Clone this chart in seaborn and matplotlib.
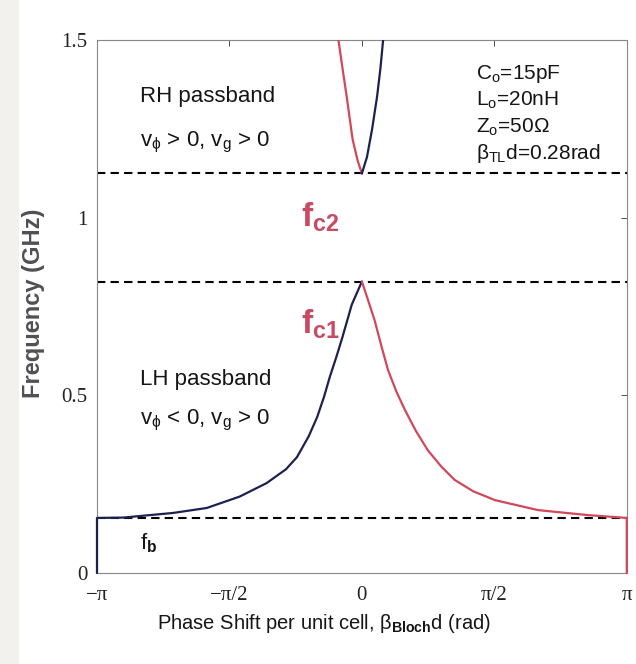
import numpy as np
import pandas as pd
import matplotlib
matplotlib.use("Agg")
import matplotlib.pyplot as plt
import seaborn as sns

# ------------------------------------------------------------
# DATA
# ------------------------------------------------------------
PI = np.pi

# LH band, negative phase (dark blue)
lh_neg_beta = [-PI, -PI, -2.83, -2.24, -1.84, -1.45, -1.13, -0.90, -0.77, -0.63,
               -0.53, -0.45, -0.38, -0.30, -0.23, -0.12, 0.0]
lh_neg_freq = [0.0, 0.155, 0.156, 0.169, 0.183, 0.215, 0.253, 0.292, 0.326, 0.385,
               0.439, 0.495, 0.552, 0.610, 0.664, 0.755, 0.82]

# LH band, positive phase (red)
lh_pos_beta = [0.0, 0.07, 0.15, 0.23, 0.31, 0.41, 0.51, 0.64, 0.78, 0.94,
               1.10, 1.32, 1.58, 2.09, 2.68, PI, PI]
lh_pos_freq = [0.82, 0.77, 0.712, 0.640, 0.571, 0.510, 0.459, 0.400, 0.346, 0.300,
               0.262, 0.230, 0.205, 0.177, 0.163, 0.155, 0.0]

# RH band
rh_neg_beta = [-0.29, -0.23, -0.18, -0.11, -0.05, 0.0]
rh_neg_freq = [1.52, 1.42, 1.34, 1.22, 1.16, 1.124]
rh_pos_beta = [0.0, 0.06, 0.12, 0.18, 0.22, 0.26]
rh_pos_freq = [1.124, 1.17, 1.247, 1.34, 1.42, 1.52]

# cutoff frequencies (GHz)
f_b, f_c1, f_c2 = 0.155, 0.82, 1.124

x_ticks = [-PI, -PI / 2, 0, PI / 2, PI]
x_tick_labels = ["\u2212\u03c0", "\u2212\u03c0/2", "0", "\u03c0/2", "\u03c0"]
y_ticks = [0, 0.5, 1, 1.5]
y_tick_labels = ["0", "0.5", "1", "1.5"]

params = ["C$_o$=15pF", "L$_o$=20nH", "Z$_o$=50$\\Omega$", r"$\beta_{TL}$d=0.28rad"]

# ------------------------------------------------------------
# STYLE
# ------------------------------------------------------------
sns.set_style("white")
plt.rcParams["font.family"] = ["Liberation Sans", "DejaVu Sans"]
plt.rcParams["mathtext.fontset"] = "custom"
plt.rcParams["mathtext.rm"] = "Liberation Sans"
plt.rcParams["mathtext.it"] = "Liberation Sans"
plt.rcParams["mathtext.bf"] = "Liberation Sans:bold"

BLUE = "#1d2150"
RED = "#d2475a"
LABEL_RED = "#c94a63"
TXT = "#151515"

fig = plt.figure(figsize=(6.36, 6.64), dpi=100)
# pale scanned-paper strip on the left edge
fig.patches.append(plt.Rectangle((0, 0), 0.028, 1, transform=fig.transFigure,
                                 color="#f2f1ed", zorder=0))
ax = fig.add_axes([0.1525, 0.137, 0.833, 0.803])

def curve(b, f, color):
    d = pd.DataFrame({"beta": b, "freq": f})
    sns.lineplot(data=d, x="beta", y="freq", sort=False, estimator=None,
                 color=color, lw=1.6, ax=ax)

curve(lh_neg_beta, lh_neg_freq, BLUE)
curve(lh_pos_beta, lh_pos_freq, RED)
curve(rh_neg_beta, rh_neg_freq, RED)
curve(rh_pos_beta, rh_pos_freq, BLUE)
for ln in ax.lines:
    ln.set_solid_joinstyle("round")
    ln.set_zorder(3)
ax.lines[0].set_clip_on(False)
ax.lines[1].set_clip_on(False)

for f in (f_b, f_c1, f_c2):
    ax.axhline(f, color="black", lw=1.5, ls=(0, (4, 2.5)), zorder=1)

ax.set_xlim(-PI, PI)
ax.set_ylim(0, 1.5)

ax.set_xticks(x_ticks)
ax.set_xticklabels(x_tick_labels)
ax.set_yticks(y_ticks)
ax.set_yticklabels(y_tick_labels)
ax.tick_params(direction="in", length=4, width=0.6, top=True, right=True,
               labelsize=15, colors="#333333")
ax.tick_params(axis="x", pad=9)
ax.tick_params(axis="y", pad=7)
for lab in ax.get_xticklabels() + ax.get_yticklabels():
    lab.set_family(["Liberation Serif", "DejaVu Serif"])
    lab.set_color("#222222")

for s in ax.spines.values():
    s.set_color("#888888")
    s.set_linewidth(0.8)
    s.set_linestyle((0, (1, 0.6)))
    s.set_zorder(2)

ax.set_xlabel(r"Phase Shift per unit cell, $\beta_{\mathbf{Bloch}}$d (rad)",
              fontsize=14.5, color=TXT)
ax.xaxis.set_label_coords(0.428, -0.074)
ax.set_ylabel("Frequency (GHz)", fontsize=17, fontweight="bold", color="#505050")
ax.yaxis.set_label_coords(-0.098, 0.505)

# annotations
ax.text(-2.63, 1.34, "RH passband", fontsize=16, va="center", color=TXT)
ax.text(-2.63, 1.21, r"v$_\phi$ > 0, v$_g$ > 0", fontsize=16, va="center", color=TXT)
ax.text(-2.63, 0.545, "LH passband", fontsize=16, va="center", color=TXT)
ax.text(-2.63, 0.43, r"v$_\phi$ < 0, v$_g$ > 0", fontsize=16, va="center", color=TXT)
ax.text(-2.63, 0.085, r"f$_\mathbf{b}$", fontsize=16, va="center", color=TXT)

ax.text(-0.72, 1.0, r"$\mathbf{f_{c2}}$", fontsize=24, va="center", color=LABEL_RED)
ax.text(-0.72, 0.70, r"$\mathbf{f_{c1}}$", fontsize=24, va="center", color=LABEL_RED)

for i, p in enumerate(params):
    ax.text(1.35, 1.405 - i * 0.075, p, fontsize=15, va="center", color=TXT)

fig.savefig("out.png", dpi=100, facecolor="white")
